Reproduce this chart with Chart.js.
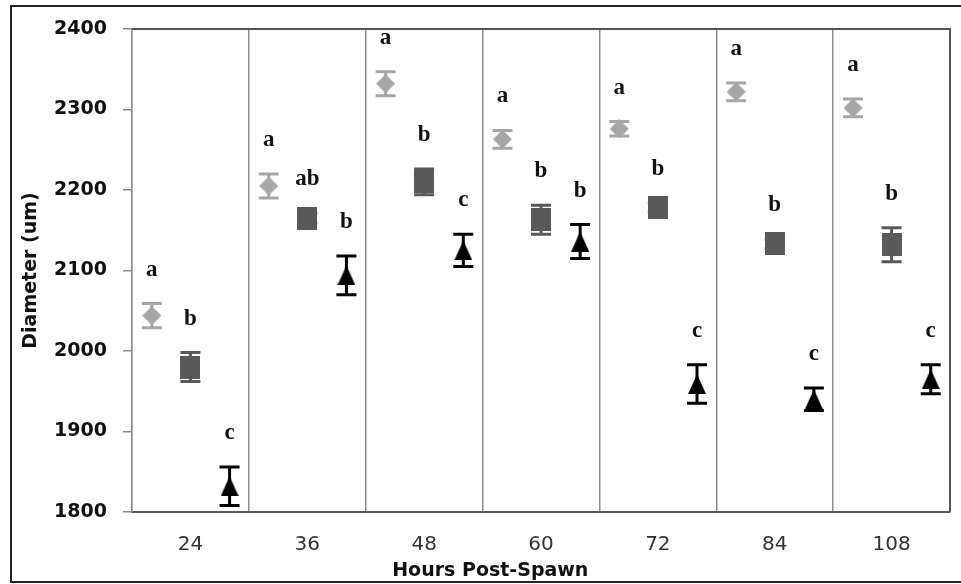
<!DOCTYPE html>
<html>
<head>
<meta charset="utf-8">
<script src="https://cdn.jsdelivr.net/npm/chart.js@4.4.1/dist/chart.umd.min.js"></script>
<style>
    html, body { margin: 0; padding: 0; background: #fff; overflow: hidden; }
    #wrap { position: relative; width: 961px; height: 584px; }
    #frame { position: absolute; left: 10px; top: 5px; width: 970px; height: 574px; border: 2px solid #222; pointer-events: none; }
</style>
</head>
<body>
<div id="wrap">
    <canvas id="diameterChart" width="961" height="584"></canvas>
    <div id="frame"></div>
</div>
<script>
const hours = ['24', '36', '48', '60', '72', '84', '108'];
const yTickValues = [1800, 1900, 2000, 2100, 2200, 2300, 2400];

const diamondMeans = [2044, 2205, 2332, 2263, 2276, 2322, 2302];
const diamondErrors = [15, 15, 15, 11, 9, 11, 11];
const diamondLetters = ['a', 'a', 'a', 'a', 'a', 'a', 'a'];

const squareMeans = [1980, 2165, 2210, 2163, 2178, 2133, 2132];
const squareErrors = [18, 6, 16, 18, 6, 6, 21];
const squareLetters = ['b', 'ab', 'b', 'b', 'b', 'b', 'b'];

const triangleMeans = [1832, 2094, 2125, 2136, 1959, 1940, 1965];
const triangleErrors = [24, 24, 20, 21, 24, 14, 18];
const triangleLetters = ['c', 'b', 'c', 'b', 'c', 'c', 'c'];

document.addEventListener('DOMContentLoaded', () => {
    const chartElement = document.getElementById('diameterChart');

    const makeMarker = (shape, width, height, color) => {
        const marker = document.createElement('canvas');
        marker.width = width;
        marker.height = height;
        const g = marker.getContext('2d');
        g.fillStyle = color;
        g.beginPath();
        if (shape === 'diamond') {
            g.moveTo(width / 2, 0);
            g.lineTo(width, height / 2);
            g.lineTo(width / 2, height);
            g.lineTo(0, height / 2);
        } else if (shape === 'triangle') {
            g.moveTo(width / 2, 0);
            g.lineTo(width, height);
            g.lineTo(0, height);
        } else {
            g.rect(0, 0, width, height);
        }
        g.closePath();
        g.fill();
        return marker;
    };

    const makeSeries = (label, means, errors, letters, shift, color, marker) => ({
        label,
        data: means.map((value, index) => ({ x: index + shift, y: value })),
        errors,
        letters,
        color,
        xAxisID: 'xPos',
        yAxisID: 'y',
        pointStyle: marker,
        pointRadius: 10,
        backgroundColor: color,
        borderColor: color,
        showLine: false,
    });

    // error bars go under the markers, so tiny ones disappear like in the original
    const errorBarPlugin = {
        id: 'errorBars',
        beforeDatasetsDraw: (chart) => {
            const { ctx } = chart;
            const yScale = chart.scales.y;
            chart.data.datasets.forEach((dataset, datasetIndex) => {
                const meta = chart.getDatasetMeta(datasetIndex);
                ctx.save();
                ctx.strokeStyle = dataset.color;
                ctx.lineWidth = 3;
                meta.data.forEach((point, index) => {
                    const mean = dataset.data[index].y;
                    const top = yScale.getPixelForValue(mean + dataset.errors[index]);
                    const bottom = yScale.getPixelForValue(mean - dataset.errors[index]);
                    ctx.beginPath();
                    ctx.moveTo(point.x, top);
                    ctx.lineTo(point.x, bottom);
                    ctx.moveTo(point.x - 10, top);
                    ctx.lineTo(point.x + 10, top);
                    ctx.moveTo(point.x - 10, bottom);
                    ctx.lineTo(point.x + 10, bottom);
                    ctx.stroke();
                });
                ctx.restore();
            });
        },
    };

    // significance letters above each error bar
    const letterPlugin = {
        id: 'letters',
        afterDatasetsDraw: (chart) => {
            const { ctx } = chart;
            const yScale = chart.scales.y;
            ctx.save();
            ctx.font = 'bold 23px "Liberation Serif"';
            ctx.fillStyle = '#111';
            ctx.textAlign = 'center';
            ctx.textBaseline = 'alphabetic';
            chart.data.datasets.forEach((dataset, datasetIndex) => {
                const meta = chart.getDatasetMeta(datasetIndex);
                meta.data.forEach((point, index) => {
                    const top = yScale.getPixelForValue(dataset.data[index].y + dataset.errors[index]);
                    ctx.fillText(dataset.letters[index], point.x, top - 28);
                });
            });
            ctx.restore();
        },
    };

    const framePlugin = {
        id: 'frame',
        afterDraw: (chart) => {
            const { ctx, chartArea } = chart;
            ctx.save();
            ctx.strokeStyle = '#555';
            ctx.lineWidth = 2;
            ctx.beginPath();
            ctx.moveTo(chartArea.left, chartArea.top);
            ctx.lineTo(chartArea.right, chartArea.top);
            ctx.lineTo(chartArea.right, chartArea.bottom);
            ctx.stroke();

            ctx.font = 'bold 19px "DejaVu Sans"';
            ctx.fillStyle = '#111';
            ctx.textAlign = 'center';
            ctx.textBaseline = 'middle';
            ctx.fillText('Hours Post-Spawn', chartArea.left + chartArea.width * 0.438, chartArea.bottom + 59);
            ctx.restore();
        },
    };

    new Chart(chartElement, {
        type: 'scatter',
        data: {
            labels: hours,
            datasets: [
                makeSeries('Series 1', diamondMeans, diamondErrors, diamondLetters, -0.33, '#a6a6a6', makeMarker('diamond', 19, 19, '#a6a6a6')),
                makeSeries('Series 2', squareMeans, squareErrors, squareLetters, 0, '#595959', makeMarker('square', 20, 23, '#595959')),
                makeSeries('Series 3', triangleMeans, triangleErrors, triangleLetters, 0.335, '#000000', makeMarker('triangle', 18, 20, '#000000')),
            ],
        },
        options: {
            responsive: false,
            animation: false,
            layout: { padding: { top: 29, right: 10, left: 0, bottom: 0 } },
            plugins: {
                legend: { display: false },
                tooltip: { enabled: false },
            },
            scales: {
                x: {
                    type: 'category',
                    labels: hours,
                    position: 'bottom',
                    offset: true,
                    grid: { offset: true, drawTicks: false, color: '#8c8c8c', lineWidth: 1.5 },
                    border: { color: '#5a5a5a', width: 2 },
                    ticks: {
                        color: '#333',
                        padding: 21,
                        font: { family: 'DejaVu Sans', size: 20 },
                    },
                    afterFit: (scale) => {
                        scale.height = 72;
                    },
                },
                xPos: {
                    type: 'linear',
                    position: 'bottom',
                    min: -0.5,
                    max: 6.5,
                    display: false,
                },
                y: {
                    min: yTickValues[0],
                    max: yTickValues[yTickValues.length - 1],
                    afterBuildTicks: (scale) => {
                        scale.ticks = yTickValues.map((value) => ({ value }));
                    },
                    grid: { drawOnChartArea: false, tickLength: 9, color: '#8c8c8c', lineWidth: 1.5 },
                    border: { color: '#8c8c8c', width: 1.5 },
                    ticks: {
                        color: '#111',
                        padding: 16,
                        font: { family: 'DejaVu Sans', size: 19, weight: 'bold' },
                        callback: (value) => String(value),
                    },
                    title: {
                        display: true,
                        text: 'Diameter (um)',
                        color: '#111',
                        padding: { top: 20, bottom: 0 },
                        font: { family: 'DejaVu Sans', size: 19, weight: 'bold' },
                    },
                    afterFit: (scale) => {
                        scale.width = 132;
                    },
                },
            },
        },
        plugins: [errorBarPlugin, letterPlugin, framePlugin],
    });
});
</script>
</body>
</html>
